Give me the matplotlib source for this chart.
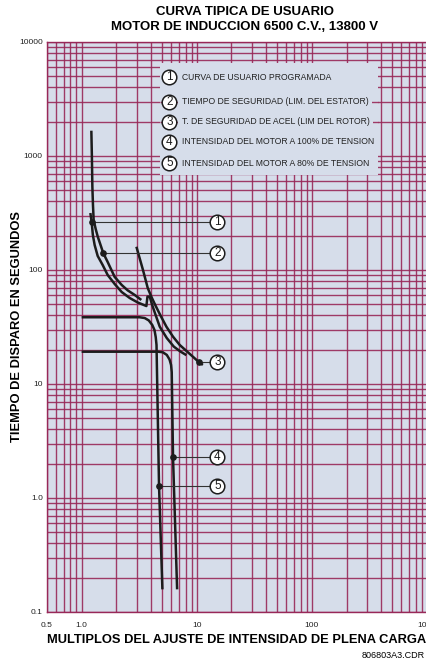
import matplotlib

matplotlib.use("Agg")
import matplotlib.pyplot as plt
from matplotlib.patches import Rectangle
from matplotlib.ticker import LogLocator, NullFormatter

# Curves (multiples of FLA, trip time in seconds)
curve1_x = [1.19, 1.221, 1.251, 1.297, 1.378, 1.522, 1.683, 1.935, 2.228, 2.615, 3.069, 3.65,
            3.73, 3.90, 4.10, 4.36, 4.77, 5.49, 6.31, 7.19, 8.13]
curve1_t = [316, 265, 203, 165.6, 132.8, 110.7, 90.4, 75.4, 64.1, 56.8, 51.9, 48.3,
            58.4, 58.4, 49.3, 41.1, 31.8, 25.3, 21.3, 19.3, 17.9]

curve2_x = [1.214, 1.227, 1.239, 1.254, 1.271, 1.324, 1.38, 1.544, 1.683, 1.935, 2.228,
            2.51, 2.89, 3.3]
curve2_t = [1667, 1000, 538, 372, 275, 229, 196, 140, 117.5, 87, 73.9, 66.3, 60.4, 54.6]

curve3_x = [2.99, 3.41, 3.75, 4.04, 4.40, 4.815, 5.45, 6.22, 7.11, 8.13, 9.23, 10.4, 11.3]
curve3_t = [160, 100, 69.5, 58, 48.3, 40.3, 31.8, 26, 22.0, 19.5, 17.4, 15.6, 14.7]

curve4_x = [1.0, 4.61, 5.06, 5.49, 5.80, 5.98, 6.06, 6.22, 6.75]
curve4_t = [19.2, 19.2, 19.0, 18.0, 16.4, 14.7, 12.7, 2.27, 0.158]

curve5_x = [1.0, 3.19, 3.53, 3.83, 4.10, 4.29, 4.40, 4.47, 4.70, 5.03]
curve5_t = [38.5, 38.5, 37.9, 36.1, 33.0, 29.8, 25.8, 22.0, 1.28, 0.158]

# Callout dots on the curves, numbered 1..5
mark_x = [1.221, 1.544, 10.4, 6.22, 4.70]
mark_t = [265, 140, 15.6, 2.27, 1.28]
mark_ids = ["1", "2", "3", "4", "5"]
callout_x = 15.1

legend_labels = [
    "CURVA DE USUARIO PROGRAMADA",
    "TIEMPO DE SEGURIDAD (LIM. DEL ESTATOR)",
    "T. DE SEGURIDAD DE ACEL (LIM DEL ROTOR)",
    "INTENSIDAD DEL MOTOR A 100% DE TENSION",
    "INTENSIDAD DEL MOTOR A 80% DE TENSION",
]

x_ticks = [0.5, 1.0, 10, 100, 1000]
x_tick_labels = ["0.5", "1.0", "10", "100", "1000"]
y_ticks = [0.1, 1, 10, 100, 1000, 10000]
y_tick_labels = ["0.1", "1.0", "10", "100", "1000", "10000"]

GRID = "#982858"
BG = "#d6ddea"
INK = "#1c1c1c"

plt.rcParams["font.family"] = ["Liberation Sans", "DejaVu Sans"]

fig = plt.figure(figsize=(4.26, 6.64), dpi=100)
ax = fig.add_axes([47 / 426, 52 / 664, 380 / 426, 570 / 664])
ax.set_xscale("log")
ax.set_yscale("log")
ax.set_xlim(0.5, 1000)
ax.set_ylim(0.1, 10000)
ax.set_facecolor(BG)

ax.set_xticks(x_ticks, x_tick_labels)
ax.set_yticks(y_ticks, y_tick_labels)
for axis in (ax.xaxis, ax.yaxis):
    axis.set_minor_locator(LogLocator(base=10, subs=range(1, 10), numticks=30))
    axis.set_minor_formatter(NullFormatter())
ax.tick_params(which="both", length=0, labelsize=6, colors="#222")
ax.tick_params(axis="x", pad=7)
ax.tick_params(axis="y", pad=3)
ax.grid(which="both", color=GRID, lw=1.0, alpha=0.9)
for s in ax.spines.values():
    s.set_color(GRID)
    s.set_linewidth(1.0)

# legend panel hides the grid behind it
ax.add_patch(Rectangle((0.297, 0.767), 0.574, 0.196, transform=ax.transAxes,
                       facecolor=BG, edgecolor="none", zorder=2))
# two grid rows that still show through the panel
ax.hlines([2000, 3000], 4.77, 375, color=GRID, lw=1.0, alpha=0.9, zorder=2.1)

row_y = [0.938, 0.895, 0.860, 0.825, 0.787]
for num, label, yy in zip(mark_ids, legend_labels, row_y):
    ax.plot(0.322, yy, "o", ms=10.5, mfc="white", mec=INK, mew=1.1,
            transform=ax.transAxes, zorder=5)
    ax.text(0.322, yy, num, transform=ax.transAxes, ha="center", va="center",
            fontsize=8.5, color=INK, zorder=6)
    ax.text(0.354, yy, label, transform=ax.transAxes, ha="left", va="center",
            fontsize=6.2, color="#222", zorder=4,
            bbox=dict(boxstyle="square,pad=0.4", fc=BG, ec="none"))

for cx, ct in [(curve1_x, curve1_t), (curve2_x, curve2_t), (curve3_x, curve3_t),
               (curve4_x, curve4_t), (curve5_x, curve5_t)]:
    ax.plot(cx, ct, color=INK, lw=1.8, solid_capstyle="butt",
            solid_joinstyle="round", zorder=3)

for mx, mt, num in zip(mark_x, mark_t, mark_ids):
    ax.plot([mx, callout_x], [mt, mt], color="#333", lw=0.8, zorder=3.5)
    ax.plot(mx, mt, "o", ms=3.8, color=INK, zorder=4)
    ax.plot(callout_x, mt, "o", ms=10.5, mfc="white", mec=INK, mew=1.1, zorder=5)
    ax.text(callout_x, mt, num, ha="center", va="center", fontsize=8.5,
            color=INK, zorder=6)

fig.text(245 / 426, 1 - 12 / 664, "CURVA TIPICA DE USUARIO", ha="center",
         va="center", fontsize=9.5, fontweight="bold")
fig.text(245 / 426, 1 - 27 / 664, "MOTOR DE INDUCCION 6500 C.V., 13800 V",
         ha="center", va="center", fontsize=9.5, fontweight="bold")
fig.text(17 / 426, 1 - 326 / 664, "TIEMPO DE DISPARO EN SEGUNDOS", rotation=90,
         ha="center", va="center", fontsize=9.3, fontweight="bold")
fig.text(47 / 426, 1 - 640 / 664, "MULTIPLOS DEL AJUSTE DE INTENSIDAD DE PLENA CARGA",
         ha="left", va="center", fontsize=9.3, fontweight="bold")
fig.text(425 / 426, 1 - 656 / 664, "806803A3.CDR", ha="right", va="center",
         fontsize=6.5)

fig.savefig("out.png", dpi=100)
